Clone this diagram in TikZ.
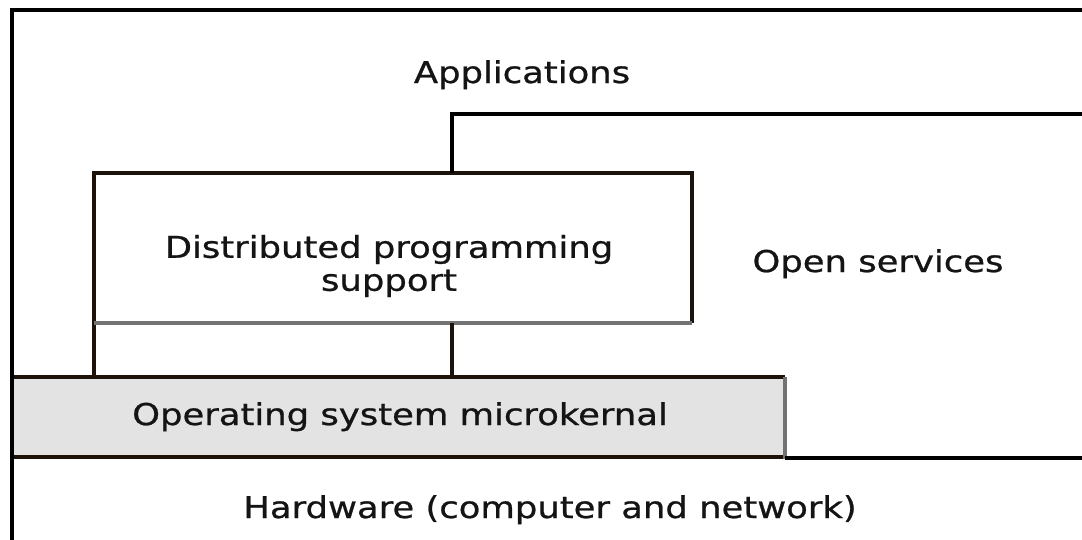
\documentclass[tikz,border=0pt]{standalone}
\usepackage{fontspec}
\setmainfont{DejaVu Sans}[FakeStretch=1.18,FakeBold=0.8]
\begin{document}
\begin{tikzpicture}[x=1pt,y=-1pt,
  frame/.style={line width=4pt,draw=black},
  edge/.style={line width=3.4pt,draw=black!85!brown},
  softedge/.style={line width=3.4pt,draw=black!55},
  label/.style={font=\fontsize{30}{33}\selectfont,text=black!92,inner sep=0pt,anchor=base,align=center}]
  \useasboundingbox (0,0) rectangle (1082,539);

  % operating system layer (shaded band)
  \fill[black!11] (12,377) rectangle (785,457);
  \draw[edge] (12,377) -- (785,377);
  \draw[edge] (12,457) -- (785,457);
  \draw[softedge] (785,377) -- (785,459);

  % hardware boundary to the right of the microkernel
  \draw[frame,line width=3.6pt] (785,458) -- (1084,458);

  % distributed programming support box
  \draw[edge] (692,323) -- (692,173) -- (94,173) -- (94,377);
  \draw[softedge] (94,323) -- (692,323);

  % open services region
  \draw[frame,line width=3.5pt] (1084,114) -- (452,114) -- (452,173);
  \draw[edge] (452,323) -- (452,377);

  % outer frame
  \draw[frame] (12,541) -- (12,10) -- (1084,10);

  % layer labels
  \node[label] (apps) at (522,83) {Applications};
  \node[label,anchor=center] (dps) at (389,266) {Distributed programming\\support};
  \node[label] (open) at (878,272) {Open services};
  \node[label] (os) at (400,425) {Operating system microkernal};
  \node[label] (hw) at (550,518) {Hardware (computer and network)};
\end{tikzpicture}
\end{document}
